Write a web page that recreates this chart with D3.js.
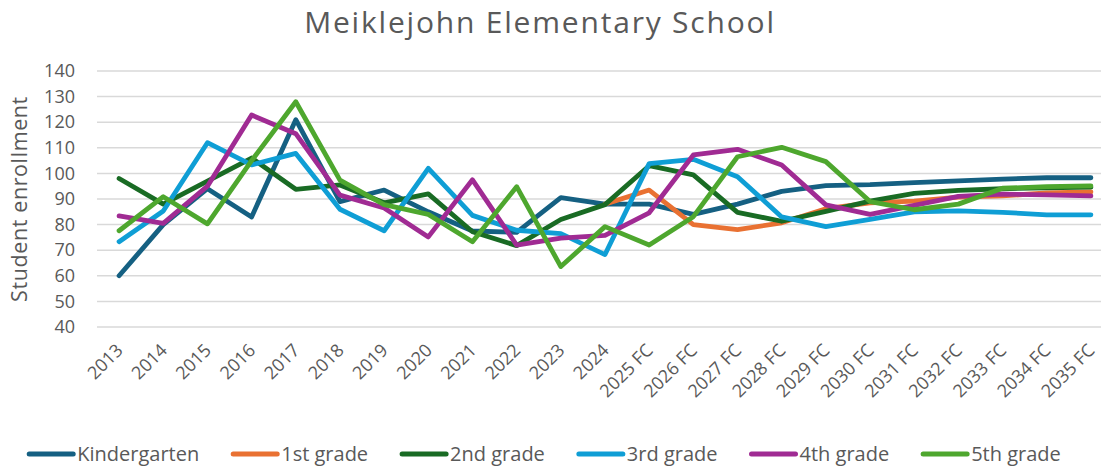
<!DOCTYPE html>
<html>
<head>
<meta charset="utf-8">
<script src="https://cdn.jsdelivr.net/npm/d3@7"></script>
<style>
  html, body { margin: 0; padding: 0; background: #fff; }
  svg { display: block; }
  text { font-family: "Open Sans", Roboto, sans-serif; fill: #595959; }
</style>
</head>
<body>
<svg id="chart" width="1101" height="467"></svg>
<script>
const categories = ["2013","2014","2015","2016","2017","2018","2019","2020","2021","2022","2023","2024",
  "2025 FC","2026 FC","2027 FC","2028 FC","2029 FC","2030 FC","2031 FC","2032 FC","2033 FC","2034 FC","2035 FC"];

const kindergarten = [60, 80, 94, 83, 121, 89, 93.5, 85, 77.5, 77, 90.5, 88, 88, 84, 88, 93, 95.2, 95.6, 96.4, 97.1, 97.8, 98.3, 98.3];
const grade1 = [null, null, null, null, null, null, null, null, null, null, null, 88, 93.5, 80, 78, 80.7, 86.2, 88.5, 89.2, 90.7, 91.2, 92.4, 92.8];
const grade2 = [98, 88, 97, 106, 93.8, 95.5, 88.5, 92, 77.2, 71.8, 82, 87.8, 103, 99.4, 84.8, 81.3, 85.2, 89.2, 92.2, 93.4, 94, 94.4, 94.6];
const grade3 = [73.3, 85.3, 112, 103.3, 107.8, 86, 77.6, 102, 83.6, 77.8, 76.5, 68.3, 103.8, 105.5, 98.7, 83, 79.2, 82, 85, 85.4, 84.8, 83.8, 83.8];
const grade4 = [83.4, 80.5, 95, 122.8, 115.5, 91.5, 86.5, 75.2, 97.5, 72, 74.7, 75.8, 84.6, 107.2, 109.4, 103.3, 87.7, 84, 87.5, 91, 91.9, 91.6, 91.2];
const grade5 = [77.6, 90.9, 80.3, 105, 128, 97.4, 87.8, 84, 73.3, 94.8, 63.6, 79.2, 72, 83.1, 106.5, 110.2, 104.6, 89, 85.8, 88, 94.2, 94.8, 95.1];

const seriesNames = ["Kindergarten", "1st grade", "2nd grade", "3rd grade", "4th grade", "5th grade"];
const seriesColors = ["#156082", "#E97132", "#196B24", "#0F9ED5", "#A02B93", "#4EA72E"];
const seriesValues = [kindergarten, grade1, grade2, grade3, grade4, grade5];
const yTicks = [40, 50, 60, 70, 80, 90, 100, 110, 120, 130, 140];

const svg = d3.select("#chart");
const plotLeft = 97, plotRight = 1113, plotTop = 71, plotBottom = 327;

const x = d3.scalePoint().domain(categories).range([plotLeft, plotRight]).padding(0.5);
const y = d3.scaleLinear().domain([40, 140]).range([plotBottom, plotTop]);

// gridlines
svg.append("g").selectAll("line").data(yTicks).join("line")
  .attr("x1", plotLeft).attr("x2", plotRight)
  .attr("y1", d => y(d)).attr("y2", d => y(d))
  .attr("stroke", "#d9d9d9").attr("stroke-width", 1.5);

// y axis labels
const yAxis = d3.axisLeft(y).tickValues(yTicks).tickSize(0).tickPadding(0);
const gy = svg.append("g").attr("transform", `translate(75,0)`).call(yAxis);
gy.select(".domain").remove();
gy.selectAll("text").attr("font-size", 18).attr("fill", "#595959")
  .attr("font-family", "'Open Sans', sans-serif");

// x axis labels
const xAxis = d3.axisBottom(x).tickSize(0).tickPadding(0);
const gx = svg.append("g").attr("transform", `translate(0,${plotBottom})`).call(xAxis);
gx.select(".domain").remove();
gx.selectAll("text")
  .attr("font-size", 18).attr("fill", "#595959")
  .attr("font-family", "'Open Sans', sans-serif")
  .attr("text-anchor", "end")
  .attr("y", null)
  .attr("transform", "translate(0,20) rotate(-45)")
  .attr("dy", "0.35em");

// lines
const line = d3.line()
  .defined(d => d != null)
  .x((d, i) => x(categories[i]))
  .y(d => y(d));

seriesValues.forEach((vals, si) => {
  svg.append("path")
    .datum(vals)
    .attr("d", line)
    .attr("fill", "none")
    .attr("stroke", seriesColors[si])
    .attr("stroke-width", 4.8)
    .attr("stroke-linejoin", "round")
    .attr("stroke-linecap", "round");
});

// title
svg.append("text")
  .attr("x", 540).attr("y", 33)
  .attr("text-anchor", "middle")
  .attr("font-size", 30)
  .attr("letter-spacing", 1.8)
  .attr("fill", "#595959")
  .text("Meiklejohn Elementary School");

// y title
svg.append("text")
  .attr("transform", `translate(27,199) rotate(-90)`)
  .attr("text-anchor", "middle")
  .attr("font-size", 21.5)
  .attr("letter-spacing", 0.6)
  .attr("fill", "#595959")
  .text("Student enrollment");

// legend
const lg = svg.append("g");
let cx = 0;
const gap = 34;
seriesNames.forEach((name, i) => {
  const g = lg.append("g");
  g.append("line").attr("x1", 0).attr("x2", 44).attr("y1", 0).attr("y2", 0)
    .attr("stroke", seriesColors[i]).attr("stroke-width", 5).attr("stroke-linecap", "round");
  const t = g.append("text").attr("x", 48).attr("y", 0).attr("dy", "0.35em")
    .attr("font-size", 20).attr("fill", "#595959").text(name);
  const w = 48 + t.node().getComputedTextLength();
  g.attr("transform", `translate(${cx},0)`);
  cx += w + gap;
});
const totalW = cx - gap;
lg.attr("transform", `translate(${545 - totalW / 2},454)`);
</script>
</body>
</html>
